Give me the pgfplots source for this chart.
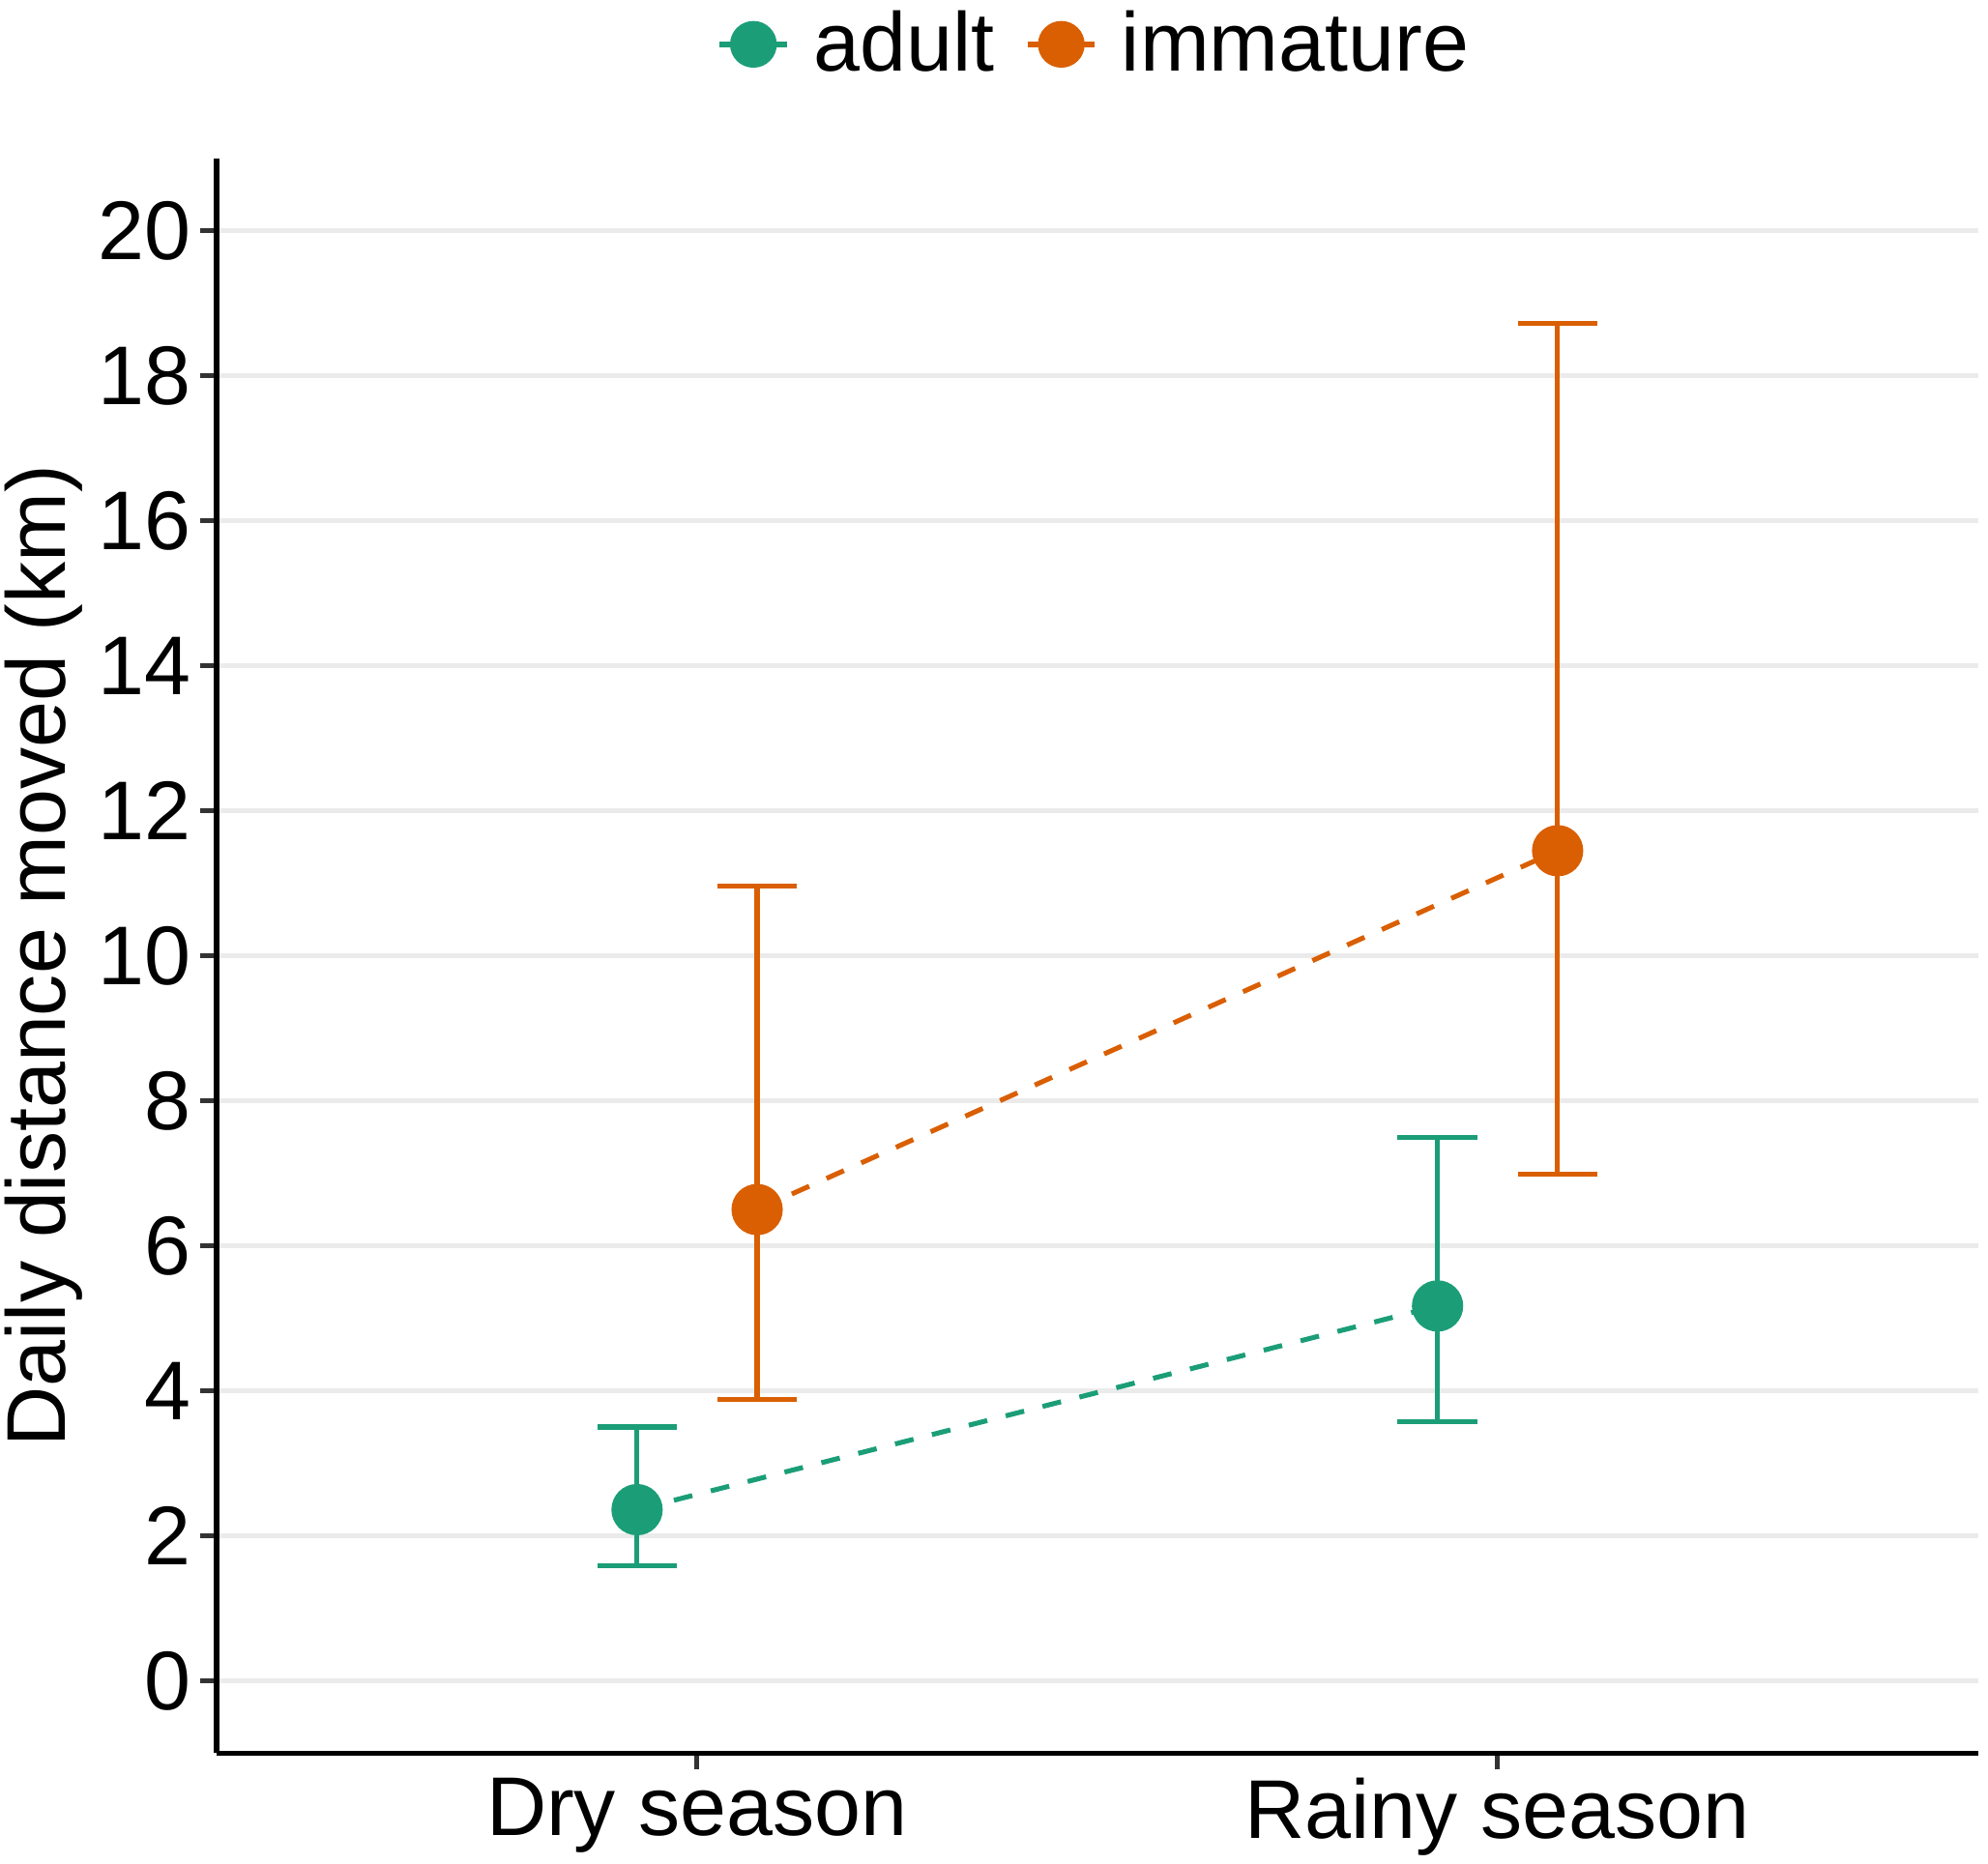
\documentclass[border=0pt]{standalone}
\usepackage{fontspec}
\setmainfont{Liberation Sans}
\usepackage{pgfplots}
\pgfplotsset{compat=1.18}
\usepackage{pgfplotstable}
\definecolor{cgreen}{HTML}{1B9E77}
\definecolor{corange}{HTML}{D95F02}
\definecolor{gridc}{HTML}{EBEBEB}
\definecolor{tickc}{HTML}{333333}

% x, y, error plus, error minus
\pgfplotstableread{
x y ep em
0.925 2.36 1.14 0.77
1.925 5.17 2.33 1.60
}\adult
\pgfplotstableread{
x y ep em
1.075 6.50 4.46 2.62
2.075 11.45 7.27 4.46
}\immature

\begin{document}
\begin{tikzpicture}
\begin{axis}[
  name=ax,
  scale only axis,
  width=138.9mm, height=125.8mm,
  xmin=0.4, xmax=2.6, ymin=-1, ymax=21,
  axis lines=left,
  axis line style={-, line width=1.2pt, black},
  xtick={1,2}, xticklabels={Dry season, Rainy season},
  ytick={0,2,...,20},
  tick align=outside,
  major tick length=1.3mm,
  tick style={line width=1.1pt, tickc},
  ymajorgrids=true,
  grid style={line width=1.1pt, gridc},
  font=\fontsize{18.7}{22}\selectfont,
  ticklabel style={font=\fontsize{18.7}{22}\selectfont},
  yticklabel style={xshift=0.5mm},
  xticklabel style={yshift=0.6mm},
  /pgf/number format/assume math mode=true,
  ylabel={Daily distance moved (km)},
  ylabel style={at={(axis description cs:-0.098,0.5)}, anchor=center, rotate=0},
  legend style={at={(0.5,1)}, anchor=center, yshift=9mm, draw=none, fill=none,
    legend columns=2, font=\fontsize{18.7}{22}\selectfont,
    /tikz/every even column/.append style={column sep=1.7mm}},
  legend cell align=left,
  legend image code/.code={
    \draw[solid, line width=1.3pt] (0mm,0mm) -- (5.3mm,0mm);
    \fill[solid] (2.65mm,0mm) circle (1.65mm);
    \path[draw=none, fill=none] (0mm,0mm) -- (6.7mm,0mm);
  },
]
\addplot[cgreen, line width=1.1pt, dash pattern=on 1.5mm off 1.5mm,
  mark=*, mark size=1.83mm, mark options={solid},
  error bars/.cd, y dir=both, y explicit,
  error bar style={solid, line width=1.1pt, cgreen},
  error mark options={mark size=3.15mm, line width=1.1pt, cgreen, rotate=90}]
  table[x=x, y=y, y error plus=ep, y error minus=em] {\adult};
\addlegendentry{adult}
\addplot[corange, line width=1.1pt, dash pattern=on 1.5mm off 1.5mm,
  mark=*, mark size=1.83mm, mark options={solid},
  error bars/.cd, y dir=both, y explicit,
  error bar style={solid, line width=1.1pt, corange},
  error mark options={mark size=3.15mm, line width=1.1pt, corange, rotate=90}]
  table[x=x, y=y, y error plus=ep, y error minus=em] {\immature};
\addlegendentry{immature}
\end{axis}
\pgfresetboundingbox
\path ([shift={(-17.1mm,-8.7mm)}]ax.south west) rectangle ([shift={(0.8mm,12.5mm)}]ax.north east);
\end{tikzpicture}
\end{document}
